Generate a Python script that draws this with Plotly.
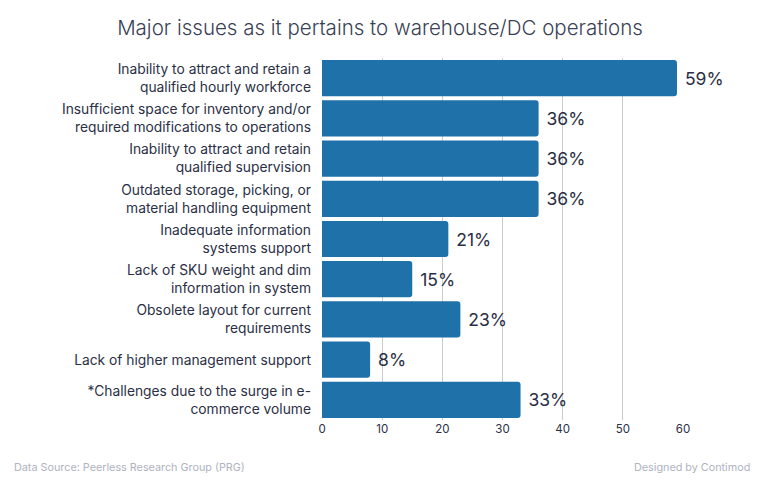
import plotly.graph_objects as go

categories = [
    "Inability to attract and retain a<br>qualified hourly workforce",
    "Insufficient space for inventory and/or<br>required modifications to operations",
    "Inability to attract and retain<br>qualified supervision",
    "Outdated storage, picking, or<br>material handling equipment",
    "Inadequate information<br>systems support",
    "Lack of SKU weight and dim<br>information in system",
    "Obsolete layout for current<br>requirements",
    "Lack of higher management support",
    "*Challenges due to the surge in e-<br>commerce volume",
]
values = [59, 36, 36, 36, 21, 15, 23, 8, 33]
labels = [f" {v}%" for v in values]
x_ticks = [0, 10, 20, 30, 40, 50, 60]

FONT = "Inter, Roboto, sans-serif"
TXT = "#2b2f45"
PW = 760 - 322 - 77

fig = go.Figure(go.Bar(
    y=categories, x=values, orientation="h",
    marker=dict(color="#1f71aa", line=dict(width=0)),
    marker_cornerradius=3,
    text=labels, textposition="outside",
    textfont=dict(size=17.5, color=TXT, family=FONT),
    cliponaxis=False,
))

fig.update_layout(
    width=760, height=480,
    margin=dict(l=322, r=77, t=58, b=60),
    paper_bgcolor="white", plot_bgcolor="white",
    bargap=0.1,
    uniformtext=dict(mode=False),
    title=dict(text="Major issues as it pertains to warehouse/DC operations",
               x=0.5, xanchor="center", y=0.942, yanchor="middle",
               font=dict(size=20.5, color="#3a3f55", family=FONT, weight=300)),
    xaxis=dict(range=[0, 60], tickvals=x_ticks, showgrid=True,
               gridcolor="#cccccc", gridwidth=1, zeroline=False,
               showline=False, ticks="", tickfont=dict(size=11.5, color=TXT, family=FONT)),
    yaxis=dict(autorange="reversed", showgrid=False, ticks="", ticklabelstandoff=10,
               tickfont=dict(size=13.8, color=TXT, family=FONT)),
    font=dict(family=FONT),
    showlegend=False,
    annotations=[
        dict(text="Data Source: Peerless Research Group (PRG)", xref="paper", yref="paper",
             x=(12 - 322) / PW, y=-0.13, xanchor="left", yanchor="middle", showarrow=False,
             font=dict(size=10.8, color="#aeb3bf", family=FONT)),
        dict(text="Designed by Contimod", xref="paper", yref="paper",
             x=(752 - 322) / PW, y=-0.13, xanchor="right", yanchor="middle", showarrow=False,
             font=dict(size=10.8, color="#aeb3bf", family=FONT)),
    ],
)

fig.write_html("out.html")
